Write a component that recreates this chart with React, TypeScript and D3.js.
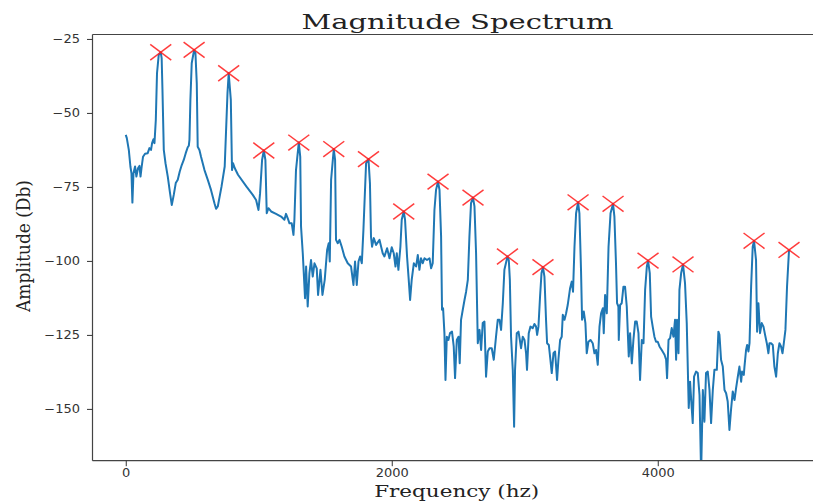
import React, { useEffect, useRef } from 'react';
import { select, scaleLinear, axisLeft, axisBottom, line } from 'd3';

// spectrum (Hz, dB)
const freqs = [
    0, 8, 23, 35, 43, 50, 58, 70, 80, 92, 103, 111, 120, 130, 145, 165, 178, 190, 198, 208, 216, 226, 235, 248, 263,
    270, 276, 286, 299, 316, 333, 346, 361, 376, 391, 406, 421, 436, 451, 466, 474, 479, 486, 496, 514, 524, 534, 541,
    554, 566, 592, 617, 641, 667, 679, 692, 720, 744, 765, 774, 790, 799, 807, 820, 844, 908, 955, 980, 998, 1010,
    1025, 1038, 1050, 1060, 1073, 1093, 1130, 1168, 1193, 1205, 1218, 1231, 1248, 1261, 1268, 1280, 1301, 1312, 1318,
    1331, 1348, 1356, 1368, 1381, 1393, 1406, 1419, 1436, 1446, 1464, 1479, 1496, 1514, 1526, 1534, 1544, 1564, 1574,
    1581, 1594, 1607, 1624, 1644, 1669, 1694, 1712, 1724, 1737, 1750, 1762, 1775, 1787, 1807, 1825, 1836, 1844, 1852,
    1865, 1882, 1908, 1932, 1945, 1965, 1983, 2000, 2015, 2028, 2038, 2050, 2065, 2075, 2090, 2100, 2115, 2126, 2138,
    2150, 2166, 2183, 2196, 2208, 2220, 2233, 2246, 2265, 2284, 2296, 2308, 2321, 2333, 2348, 2359, 2371, 2378, 2386,
    2396, 2404, 2414, 2426, 2438, 2453, 2466, 2476, 2489, 2502, 2511, 2521, 2534, 2547, 2559, 2572, 2584, 2596, 2611,
    2622, 2634, 2647, 2660, 2672, 2684, 2697, 2709, 2722, 2735, 2752, 2767, 2784, 2797, 2810, 2822, 2835, 2847, 2870,
    2880, 2888, 2897, 2910, 2920, 2927, 2940, 2953, 2963, 2972, 2985, 2998, 3010, 3017, 3030, 3043, 3060, 3073, 3085,
    3093, 3103, 3115, 3126, 3137, 3148, 3160, 3168, 3181, 3193, 3203, 3216, 3228, 3243, 3253, 3266, 3278, 3286, 3299,
    3311, 3323, 3341, 3353, 3363, 3374, 3386, 3401, 3411, 3423, 3431, 3444, 3456, 3466, 3479, 3494, 3511, 3524, 3536,
    3549, 3562, 3574, 3587, 3594, 3604, 3617, 3630, 3645, 3664, 3674, 3686, 3694, 3704, 3707, 3717, 3729, 3742, 3754,
    3767, 3775, 3782, 3792, 3805, 3817, 3830, 3842, 3855, 3867, 3880, 3893, 3905, 3918, 3927, 3940, 3950, 3962, 3975,
    3987, 4000, 4013, 4030, 4051, 4063, 4070, 4081, 4093, 4105, 4118, 4130, 4138, 4145, 4156, 4163, 4176, 4190, 4205,
    4218, 4228, 4233, 4243, 4253, 4263, 4273, 4288, 4301, 4314, 4326, 4339, 4351, 4363, 4376, 4389, 4401, 4414, 4426,
    4444, 4456, 4464, 4476, 4489, 4502, 4514, 4526, 4539, 4551, 4564, 4577, 4589, 4602, 4614, 4627, 4634, 4647, 4652,
    4664, 4672, 4682, 4690, 4702, 4714, 4724, 4739, 4747, 4757, 4769, 4782, 4795, 4807, 4820, 4832, 4840, 4852, 4865,
    4877, 4890, 4903, 4915, 4927, 4938, 4948, 4960, 4972, 4987,
];
const amps = [
    -57.4, -58.5, -62.5, -68.1, -70.4, -80.3, -70.4, -68.1, -71.5, -68.7, -67.9, -71.5, -68.1, -64.8, -63.8, -63.6, -61.9, -62.5, -60.2, -58.9, -60.2, -52.4, -36.6, -30.4, -29.5,
    -31.5, -42.2, -62.5, -67.0, -71.5, -77.1, -81.1, -77.7, -73.7, -72.6, -69.8, -67.6, -65.9, -63.6, -61.6, -61.1, -59.1, -45.6, -33.2, -28.7, -29.8, -40.0, -61.4,
    -62.5, -64.8, -69.3, -72.6, -76.0, -80.5, -82.4, -81.6, -74.9, -68.1, -43.3, -36.6, -45.6, -69.3, -67.0, -68.7, -70.9, -74.9, -77.7, -79.4, -82.8, -77.1,
    -65.9, -62.7, -65.9, -83.9, -82.2, -83.3, -84.1, -85.0, -86.1, -84.1, -85.6, -87.3, -87.3, -91.2, -86.1, -69.3, -60.0, -64.8, -88.4,
    -97.4, -112.6, -101.9, -115.4, -104.1, -99.7, -105.3, -100.8, -102.5, -111.5, -103.0, -111.5, -106.4, -96.3, -94.0, -100.2, -72.6, -62.2, -65.9,
    -92.9, -94.0, -92.9, -95.2, -98.5, -100.8, -101.9, -108.1, -100.2, -108.1, -100.2, -98.5, -100.8, -89.5, -67.0, -65.6, -73.7, -91.8, -95.2,
    -92.3, -94.6, -92.9, -97.4, -98.5, -95.7, -99.1, -95.4, -97.4, -101.9, -97.4, -103.0, -95.2, -86.1, -83.3, -86.1, -98.5, -105.3, -113.2,
    -106.4, -100.8, -101.9, -98.0, -103.0, -99.1, -100.8, -99.1, -99.7, -99.1, -102.5, -100.8, -82.8, -76.0, -73.2, -76.0, -91.8, -116.5, -116.0,
    -124.4, -140.2, -125.6, -126.7, -124.4, -123.9, -128.9, -139.6, -126.7, -125.6, -134.6, -119.9, -116.5, -113.2, -110.4, -106.4, -91.8, -80.5, -78.6,
    -81.6, -97.4, -127.8, -123.3, -130.1, -121.0, -120.5, -139.1, -130.6, -129.5, -129.5, -133.4, -125.6, -119.9, -119.9, -123.3, -114.3, -103.0, -98.5,
    -99.7, -106.4, -125.6, -136.8, -156.0, -136.8, -124.4, -123.9, -126.7, -129.5, -125.6, -126.7, -131.2, -136.8, -124.4, -122.2, -122.7, -121.3, -122.2,
    -125.0, -122.2, -112.1, -104.1, -102.1, -105.3, -119.9, -127.8, -128.4, -133.4, -137.9, -131.2, -130.6, -140.2, -133.4, -126.7, -125.6, -118.2, -119.9,
    -117.7, -114.9, -109.2, -107.0, -110.4, -95.2, -83.9, -80.2, -83.9, -103.0, -119.9, -117.1, -121.0, -131.2, -127.3, -126.7, -127.8, -131.2, -130.1,
    -135.1, -122.2, -117.7, -116.0, -124.4, -111.5, -117.7, -95.2, -83.9, -80.7, -85.0, -100.8, -114.3, -115.4, -126.7, -114.9, -114.3, -108.7, -108.7,
    -115.4, -124.4, -132.3, -124.4, -134.6, -126.7, -120.5, -120.5, -124.4, -140.2, -126.7, -127.8, -109.8, -101.9, -99.9, -104.1, -118.8, -122.2, -125.6,
    -127.3, -127.3, -128.9, -130.1, -131.7, -133.4, -139.6, -126.7, -126.1, -122.7, -125.6, -119.9, -133.4, -119.9, -131.2, -109.8, -104.1, -101.2, -107.5,
    -121.0, -140.2, -149.7, -140.8, -148.1, -154.8, -139.1, -137.4, -137.9, -145.3, -172.0, -143.6, -154.3, -137.9, -137.4, -143.6, -154.8, -143.6, -136.8,
    -136.8, -123.9, -125.0, -133.4, -135.7, -143.6, -144.7, -147.5, -157.1, -150.3, -144.1, -147.0, -143.0, -139.1, -135.7, -140.8, -137.4, -138.5, -135.7,
    -130.1, -128.4, -130.6, -127.8, -108.7, -95.2, -93.2, -99.7, -123.9, -114.3, -124.4, -121.0, -122.2, -125.0, -127.8, -131.2, -127.8, -127.8, -128.4,
    -135.7, -139.1, -131.2, -127.8, -128.9, -131.2, -127.8, -123.3, -108.7, -96.3,
];

// detected peaks (red x markers)
const peakFreqs = [263, 514, 774, 1038, 1301, 1564, 1825, 2090, 2348, 2611, 2870, 3137, 3401, 3664, 3927, 4190, 4724, 4987];
const peakAmps = [-29.5, -28.7, -36.6, -62.7, -60.0, -62.2, -65.6, -83.3, -73.2, -78.6, -98.5, -102.1, -80.2, -80.7, -99.9, -101.2, -93.2, -96.3];

const xTicks = [0, 2000, 4000];
const yTicks = [-150, -125, -100, -75, -50, -25];

const width = 813;
const height = 502;
const left = 92.5;
const right = 824;
const top = 34.5;
const bottom = 460.7;

const minus = (d) => String(d).replace('-', '\u2212');

const App = () => {
    const xAxisRef = useRef(null);
    const yAxisRef = useRef(null);

    const xScale = scaleLinear().domain([-250, 5250]).range([left, right]);
    const yScale = scaleLinear().domain([-167.5, -23.5]).range([bottom, top]);

    const path = line()
        .x((d) => xScale(d[0]))
        .y((d) => yScale(d[1]))(freqs.map((f, i) => [f, amps[i]]));

    useEffect(() => {
        const gy = select(yAxisRef.current)
            .call(axisLeft(yScale).tickValues(yTicks).tickSize(5.5).tickFormat(minus));
        gy.select('.domain').remove();
        gy.selectAll('line').attr('stroke', '#333');
        gy.selectAll('text')
            .attr('x', -11.1)
            .attr('transform', 'scale(1.13,1)')
            .attr('font-size', 11.5)
            .attr('font-family', 'DejaVu Sans')
            .attr('fill', '#333');

        const gx = select(xAxisRef.current)
            .call(axisBottom(xScale).tickValues(xTicks).tickSize(5.5).tickFormat((d) => String(d)));
        gx.select('.domain').remove();
        gx.selectAll('line').attr('stroke', '#333');
        gx.selectAll('text')
            .attr('y', 16.6)
            .attr('dy', 0)
            .attr('transform', 'scale(1.13,1)')
            .attr('font-size', 11.5)
            .attr('font-family', 'DejaVu Sans')
            .attr('fill', '#333');
    }, []);

    return (
        <svg width={width} height={height} style={{ position: 'absolute', left: 0, top: 0, background: '#fff' }}>
            <defs>
                <clipPath id="plot">
                    <rect x={left} y={top} width={right - left} height={bottom - top} />
                </clipPath>
            </defs>

            <path d={path} fill="none" stroke="#1f77b4" strokeWidth={2} strokeLinejoin="round" clipPath="url(#plot)" />

            {peakFreqs.map((f, i) => {
                const cx = xScale(f);
                const cy = yScale(peakAmps[i]);
                return (
                    <g key={i} stroke="#ff1a1a" strokeOpacity={0.85} strokeWidth={1.5}>
                        <line x1={cx - 10.5} y1={cy - 7.8} x2={cx + 10.5} y2={cy + 7.8} />
                        <line x1={cx - 10.5} y1={cy + 7.8} x2={cx + 10.5} y2={cy - 7.8} />
                    </g>
                );
            })}

            {/* spines */}
            <g stroke="#444" strokeWidth={1.2}>
                <line x1={left} y1={top} x2={left} y2={bottom} />
                <line x1={left} y1={top} x2={width} y2={top} />
                <line x1={left} y1={bottom} x2={width} y2={bottom} />
            </g>

            <g ref={yAxisRef} transform={`translate(${left},0)`} />
            <g ref={xAxisRef} transform={`translate(0,${bottom})`} />

            <text x={457.5} y={28.5} textAnchor="middle" fontFamily="DejaVu Serif" fontSize={21}
                textLength={312} lengthAdjust="spacingAndGlyphs" fill="#222">
                Magnitude Spectrum
            </text>
            <text x={456.7} y={496.5} textAnchor="middle" fontFamily="DejaVu Serif" fontSize={17}
                textLength={165} lengthAdjust="spacingAndGlyphs" fill="#222">
                Frequency (hz)
            </text>
            <text transform="translate(29.5,246) scale(1.15,1) rotate(-90)" textAnchor="middle"
                fontFamily="DejaVu Serif" fontSize={16} textLength={132} lengthAdjust="spacingAndGlyphs" fill="#222">
                Amplitude (Db)
            </text>
        </svg>
    );
};

export default App;
